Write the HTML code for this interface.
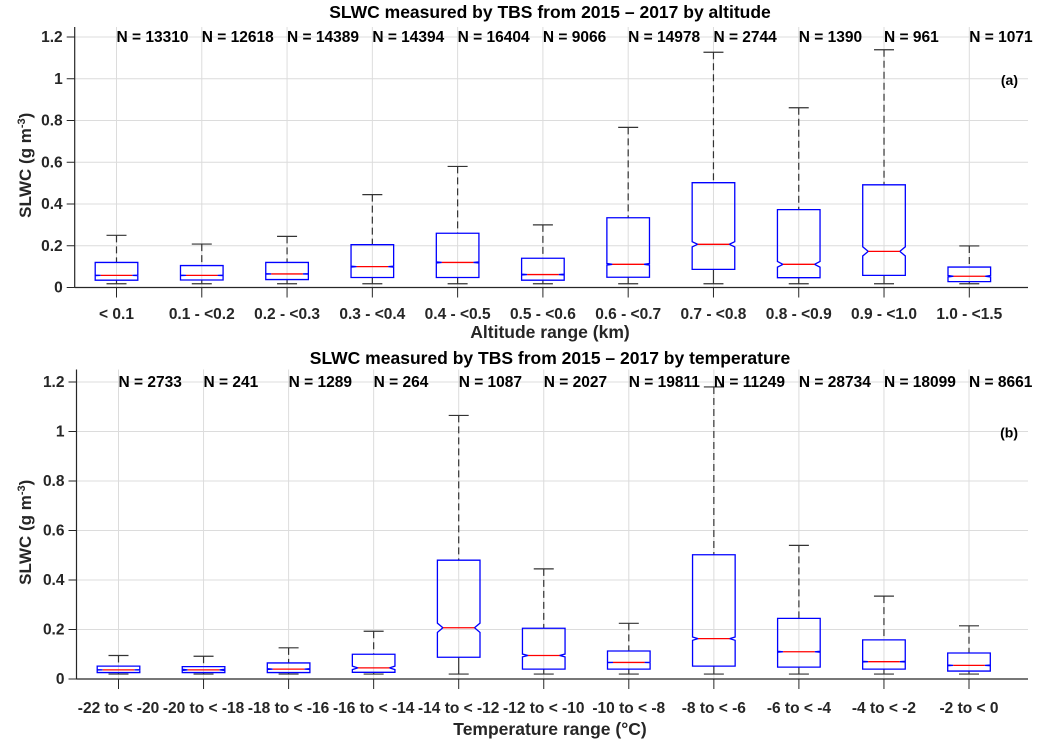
<!DOCTYPE html>
<html><head><meta charset="utf-8">
<style>
html,body{margin:0;padding:0;background:#fff;}
svg{display:block;font-family:"Liberation Sans",Arial,sans-serif;font-weight:bold;}
</style></head>
<body>
<svg id="chart" width="1043" height="747" viewBox="0 0 1043 747"></svg>
<script>
// Panel (a) data: altitude
const altCategories = ["< 0.1","0.1 - <0.2","0.2 - <0.3","0.3 - <0.4","0.4 - <0.5","0.5 - <0.6","0.6 - <0.7","0.7 - <0.8","0.8 - <0.9","0.9 - <1.0","1.0 - <1.5"];
const altN = [13310,12618,14389,14394,16404,9066,14978,2744,1390,961,1071];
const altWhiskerHigh = [0.25,0.208,0.245,0.445,0.58,0.30,0.767,1.127,0.861,1.139,0.199];
const altQ3 = [0.12,0.105,0.12,0.205,0.26,0.14,0.334,0.502,0.373,0.492,0.098];
const altMedian = [0.058,0.058,0.065,0.10,0.12,0.062,0.111,0.207,0.111,0.173,0.054];
const altQ1 = [0.035,0.036,0.038,0.048,0.048,0.035,0.049,0.087,0.047,0.058,0.028];
const altWhiskerLow = [0.018,0.018,0.018,0.018,0.018,0.018,0.018,0.018,0.018,0.018,0.018];

// Panel (b) data: temperature
const tempCategories = ["-22 to < -20","-20 to < -18","-18 to < -16","-16 to < -14","-14 to < -12","-12 to < -10","-10 to < -8","-8 to < -6","-6 to < -4","-4 to < -2","-2 to < 0"];
const tempN = [2733,241,1289,264,1087,2027,19811,11249,28734,18099,8661];
const tempWhiskerHigh = [0.095,0.092,0.126,0.193,1.065,0.445,0.225,1.18,0.54,0.335,0.215];
const tempQ3 = [0.052,0.05,0.065,0.10,0.48,0.205,0.113,0.502,0.245,0.158,0.105];
const tempMedian = [0.037,0.037,0.04,0.045,0.207,0.095,0.067,0.163,0.11,0.07,0.055];
const tempQ1 = [0.026,0.026,0.026,0.027,0.088,0.04,0.04,0.052,0.048,0.04,0.032];
const tempWhiskerLow = [0.02,0.02,0.02,0.02,0.02,0.02,0.02,0.02,0.02,0.02,0.02];

const yTicks = [0,0.2,0.4,0.6,0.8,1,1.2];
const yTickLabels = ["0","0.2","0.4","0.6","0.8","1","1.2"];

const NS="http://www.w3.org/2000/svg";
const svg=document.getElementById('chart');
function mk(tag,attrs,parent){const e=document.createElementNS(NS,tag);for(const k in attrs)e.setAttribute(k,attrs[k]);(parent||svg).appendChild(e);return e;}

function panel(cfg){
  const g=mk('g',{});
  
  
  const left=cfg.left,right=1028,top=cfg.top,y0=cfg.y0,ppu=cfg.ppu,x1=cfg.x1,dx=cfg.dx;
  const yS=v=>y0-v*ppu;
  const xS=i=>x1+i*dx;
  yTicks.forEach((t,i)=>{
    const l=mk('line',{x1:left,x2:right,y1:yS(t),y2:yS(t),stroke:'#dcdcdc','stroke-width':1},g);
    
    
    const tk=mk('line',{x1:left-8,x2:left,y1:yS(t),y2:yS(t),stroke:'#262626','stroke-width':1},g);
    
    
    const tx=mk('text',{x:left-12,y:yS(t)+5,'text-anchor':'end','font-size':15.5,fill:'#262626'},g);
    tx.textContent=yTickLabels[i];
    
    
  });
  cfg.cats.forEach((c,i)=>{
    const l=mk('line',{x1:xS(i),x2:xS(i),y1:top,y2:y0,stroke:'#dcdcdc','stroke-width':1},g);
    
    
  });
  const ax=mk('line',{x1:left,x2:left,y1:top,y2:y0,stroke:'#262626','stroke-width':1.2},g);
  
  
  const bx=mk('line',{x1:left,x2:right,y1:y0,y2:y0,stroke:'#262626','stroke-width':1.2},g);
  
  
  cfg.cats.forEach((c,i)=>{
    const x=xS(i),hw=21.3,nw=5.5,cap=10;
    const q1=cfg.q1[i],q3=cfg.q3[i],m=cfg.med[i];
    const nh=1.57*(q3-q1)/Math.sqrt(cfg.n[i]);
    const bg=mk('g',{},g);
    
    
    const wu=mk('line',{x1:x,x2:x,y1:yS(cfg.wh[i]),y2:yS(q3),stroke:'#333','stroke-width':1.2,'stroke-dasharray':'7,4'},bg);
    
    
    const cu=mk('line',{x1:x-cap,x2:x+cap,y1:yS(cfg.wh[i]),y2:yS(cfg.wh[i]),stroke:'#333','stroke-width':1.2},bg);
    
    
    const wl=mk('line',{x1:x,x2:x,y1:yS(q1),y2:yS(cfg.wl[i]),stroke:'#333','stroke-width':1.2},bg);
    
    
    const cl=mk('line',{x1:x-cap,x2:x+cap,y1:yS(cfg.wl[i]),y2:yS(cfg.wl[i]),stroke:'#333','stroke-width':1.2},bg);
    
    
    const nT=yS(m+nh),nB=yS(m-nh),ym=yS(m);
    const pts=[[x-hw,yS(q3)],[x+hw,yS(q3)],[x+hw,nT],[x+hw-nw,ym],[x+hw,nB],[x+hw,yS(q1)],[x-hw,yS(q1)],[x-hw,nB],[x-hw+nw,ym],[x-hw,nT]];
    const p=mk('polygon',{points:pts.map(q=>q.join(',')).join(' '),fill:'none',stroke:'#0000ff','stroke-width':1.3},bg);
    
    
    const md=mk('line',{x1:x-hw+nw,x2:x+hw-nw,y1:ym,y2:ym,stroke:'#ff0000','stroke-width':1.3},bg);
    
    
    const tk=mk('line',{x1:x,x2:x,y1:y0,y2:y0+10,stroke:'#262626','stroke-width':1},g);
    
    
    const tl=mk('text',{x:x,y:cfg.tickY,'text-anchor':'middle','font-size':15.5,fill:'#262626'},g);
    tl.textContent=c;
    
    
    const nl=mk('text',{x:x,y:yS(1.2)+5,'font-size':15.5,fill:'#000'},g);
    nl.textContent='N = '+cfg.n[i];
    
    
  });
  const t=mk('text',{x:550,y:cfg.titleY,'text-anchor':'middle','font-size':17.5,fill:'#000'},g);
  t.textContent=cfg.title;
  
  
  const xl=mk('text',{x:550,y:cfg.xlabelY,'text-anchor':'middle','font-size':17.5,fill:'#262626'},g);
  xl.textContent=cfg.xlabel;
  
  
  const ym=(top+y0)/2+8;
  const yl=mk('text',{x:0,y:0,'text-anchor':'middle','font-size':17,fill:'#262626',transform:`translate(31,${ym}) rotate(-90)`},g);
  yl.innerHTML='SLWC (g m<tspan dy="-6" font-size="11">-3</tspan><tspan dy="6">)</tspan>';
  
  
  const pl=mk('text',{x:1018,y:yS(1)+6,'text-anchor':'end','font-size':14,fill:'#000'},g);
  pl.textContent=cfg.tag;
  
  
}

panel({name:'panel-a-altitude',left:74.7,top:27,y0:287.5,ppu:208.75,x1:116.5,dx:85.28,
  cats:altCategories,n:altN,wh:altWhiskerHigh,q3:altQ3,med:altMedian,q1:altQ1,wl:altWhiskerLow,
  tickY:319,xlabelY:338,titleY:18,title:'SLWC measured by TBS from 2015 – 2017 by altitude',xlabel:'Altitude  range (km)',tag:'(a)'});
panel({name:'panel-b-temperature',left:76.5,top:369.5,y0:679,ppu:247.5,x1:118.5,dx:85.05,
  cats:tempCategories,n:tempN,wh:tempWhiskerHigh,q3:tempQ3,med:tempMedian,q1:tempQ1,wl:tempWhiskerLow,
  tickY:713,xlabelY:735,titleY:364,title:'SLWC measured by TBS from 2015 – 2017 by  temperature',xlabel:'Temperature  range (°C)',tag:'(b)'});
</script>
</body></html>
